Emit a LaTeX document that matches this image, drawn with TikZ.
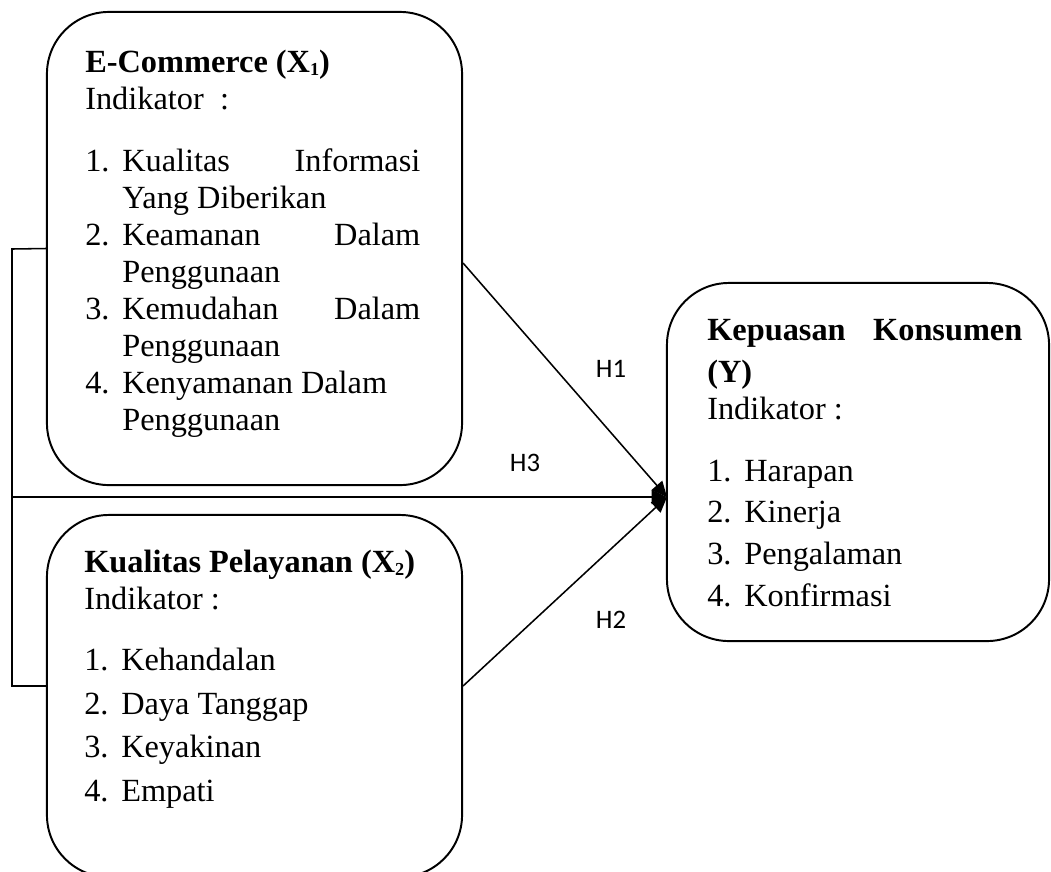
\documentclass[tikz,border=0pt]{standalone}
\usepackage{fontspec}
\setmainfont{Liberation Serif}
\newfontfamily\hypofont{Carlito}
\usetikzlibrary{arrows.meta, positioning}
\setlength{\parindent}{0pt}
\newcommand{\numitem}[1]{\makebox[0.925cm][l]{#1}}
\newcommand{\contline}{\hspace*{0.925cm}}
\newcommand{\subidx}[1]{\raisebox{-0.2ex}{\fontsize{13}{13}\selectfont #1}}

\begin{document}
\begin{tikzpicture}[x=0.025cm, y=-0.025cm,
    varbox/.style={draw, line width=1.4pt, rounded corners=1.55cm, inner sep=0pt},
    boxtext/.style={anchor=north west, inner sep=0pt, align=flush left,
                    font=\fontsize{23}{26.3}\selectfont},
    link/.style={line width=1.1pt},
    hypo/.style={link, -{Triangle[length=11pt, width=10pt]}},
    hlabel/.style={font=\hypofont\fontsize{19}{21}\selectfont, inner sep=0pt}
]
    \useasboundingbox (0,0) rectangle (1051,871);

    % variable boxes
    \node[varbox, minimum width=10.375cm, minimum height=11.825cm] (x1box) at (254.5,248.5) {};
    \node[varbox, minimum width=10.375cm, minimum height=9.05cm] (x2box) at (254.5,696) {};
    \node[varbox, minimum width=9.55cm, minimum height=8.95cm] (ybox) at (858,462) {};

    \node[boxtext, text width=8.375cm] (x1text) at (85,46) {\strut\textbf{E-Commerce (X\subidx{1})}\\
        Indikator~ :\\[17.8pt]
        \numitem{1.}Kualitas\hfill Informasi\\
        \contline Yang Diberikan\\
        \numitem{2.}Keamanan\hfill Dalam\\
        \contline Penggunaan\\
        \numitem{3.}Kemudahan\hfill Dalam\\
        \contline Penggunaan\\
        \numitem{4.}Kenyamanan Dalam\\
        \contline Penggunaan};

    \node[boxtext, text width=9cm] (x2text) at (84,546) {\strut\textbf{Kualitas Pelayanan (X\subidx{2})}\\
        Indikator :\\[17.5pt]
        \numitem{1.}Kehandalan\\[4.6pt]
        \numitem{2.}Daya Tanggap\\[4.6pt]
        \numitem{3.}Keyakinan\\[4.6pt]
        \numitem{4.}Empati};

    \node[boxtext, text width=7.875cm] (ytext) at (707,314) {\strut\textbf{Kepuasan\hfill Konsumen}\\[3.6pt]
        \textbf{(Y)}\\
        Indikator :\\[17.8pt]
        \numitem{1.}Harapan\\[3.3pt]
        \numitem{2.}Kinerja\\[3.3pt]
        \numitem{3.}Pengalaman\\[3.3pt]
        \numitem{4.}Konfirmasi};

    % connectors
    \coordinate (brtop) at (12,249);
    \coordinate (brmid) at (12,497);
    \coordinate (brbot) at (12,686);
    \coordinate (tip) at (667,497);
    \draw[link] (x1box.west) -- (brtop) -- (brbot) -- (x2box.west |- brbot);
    \draw[hypo] (x1box.east |- 0,263) -- (tip);
    \draw[hypo] (brmid) -- (tip);
    \draw[hypo] (x2box.east |- brbot) -- (tip);

    \node[hlabel] (h1) at (611,369) {H1};
    \node[hlabel] (h3) at (525,463) {H3};
    \node[hlabel] (h2) at (611,620) {H2};
\end{tikzpicture}
\end{document}
